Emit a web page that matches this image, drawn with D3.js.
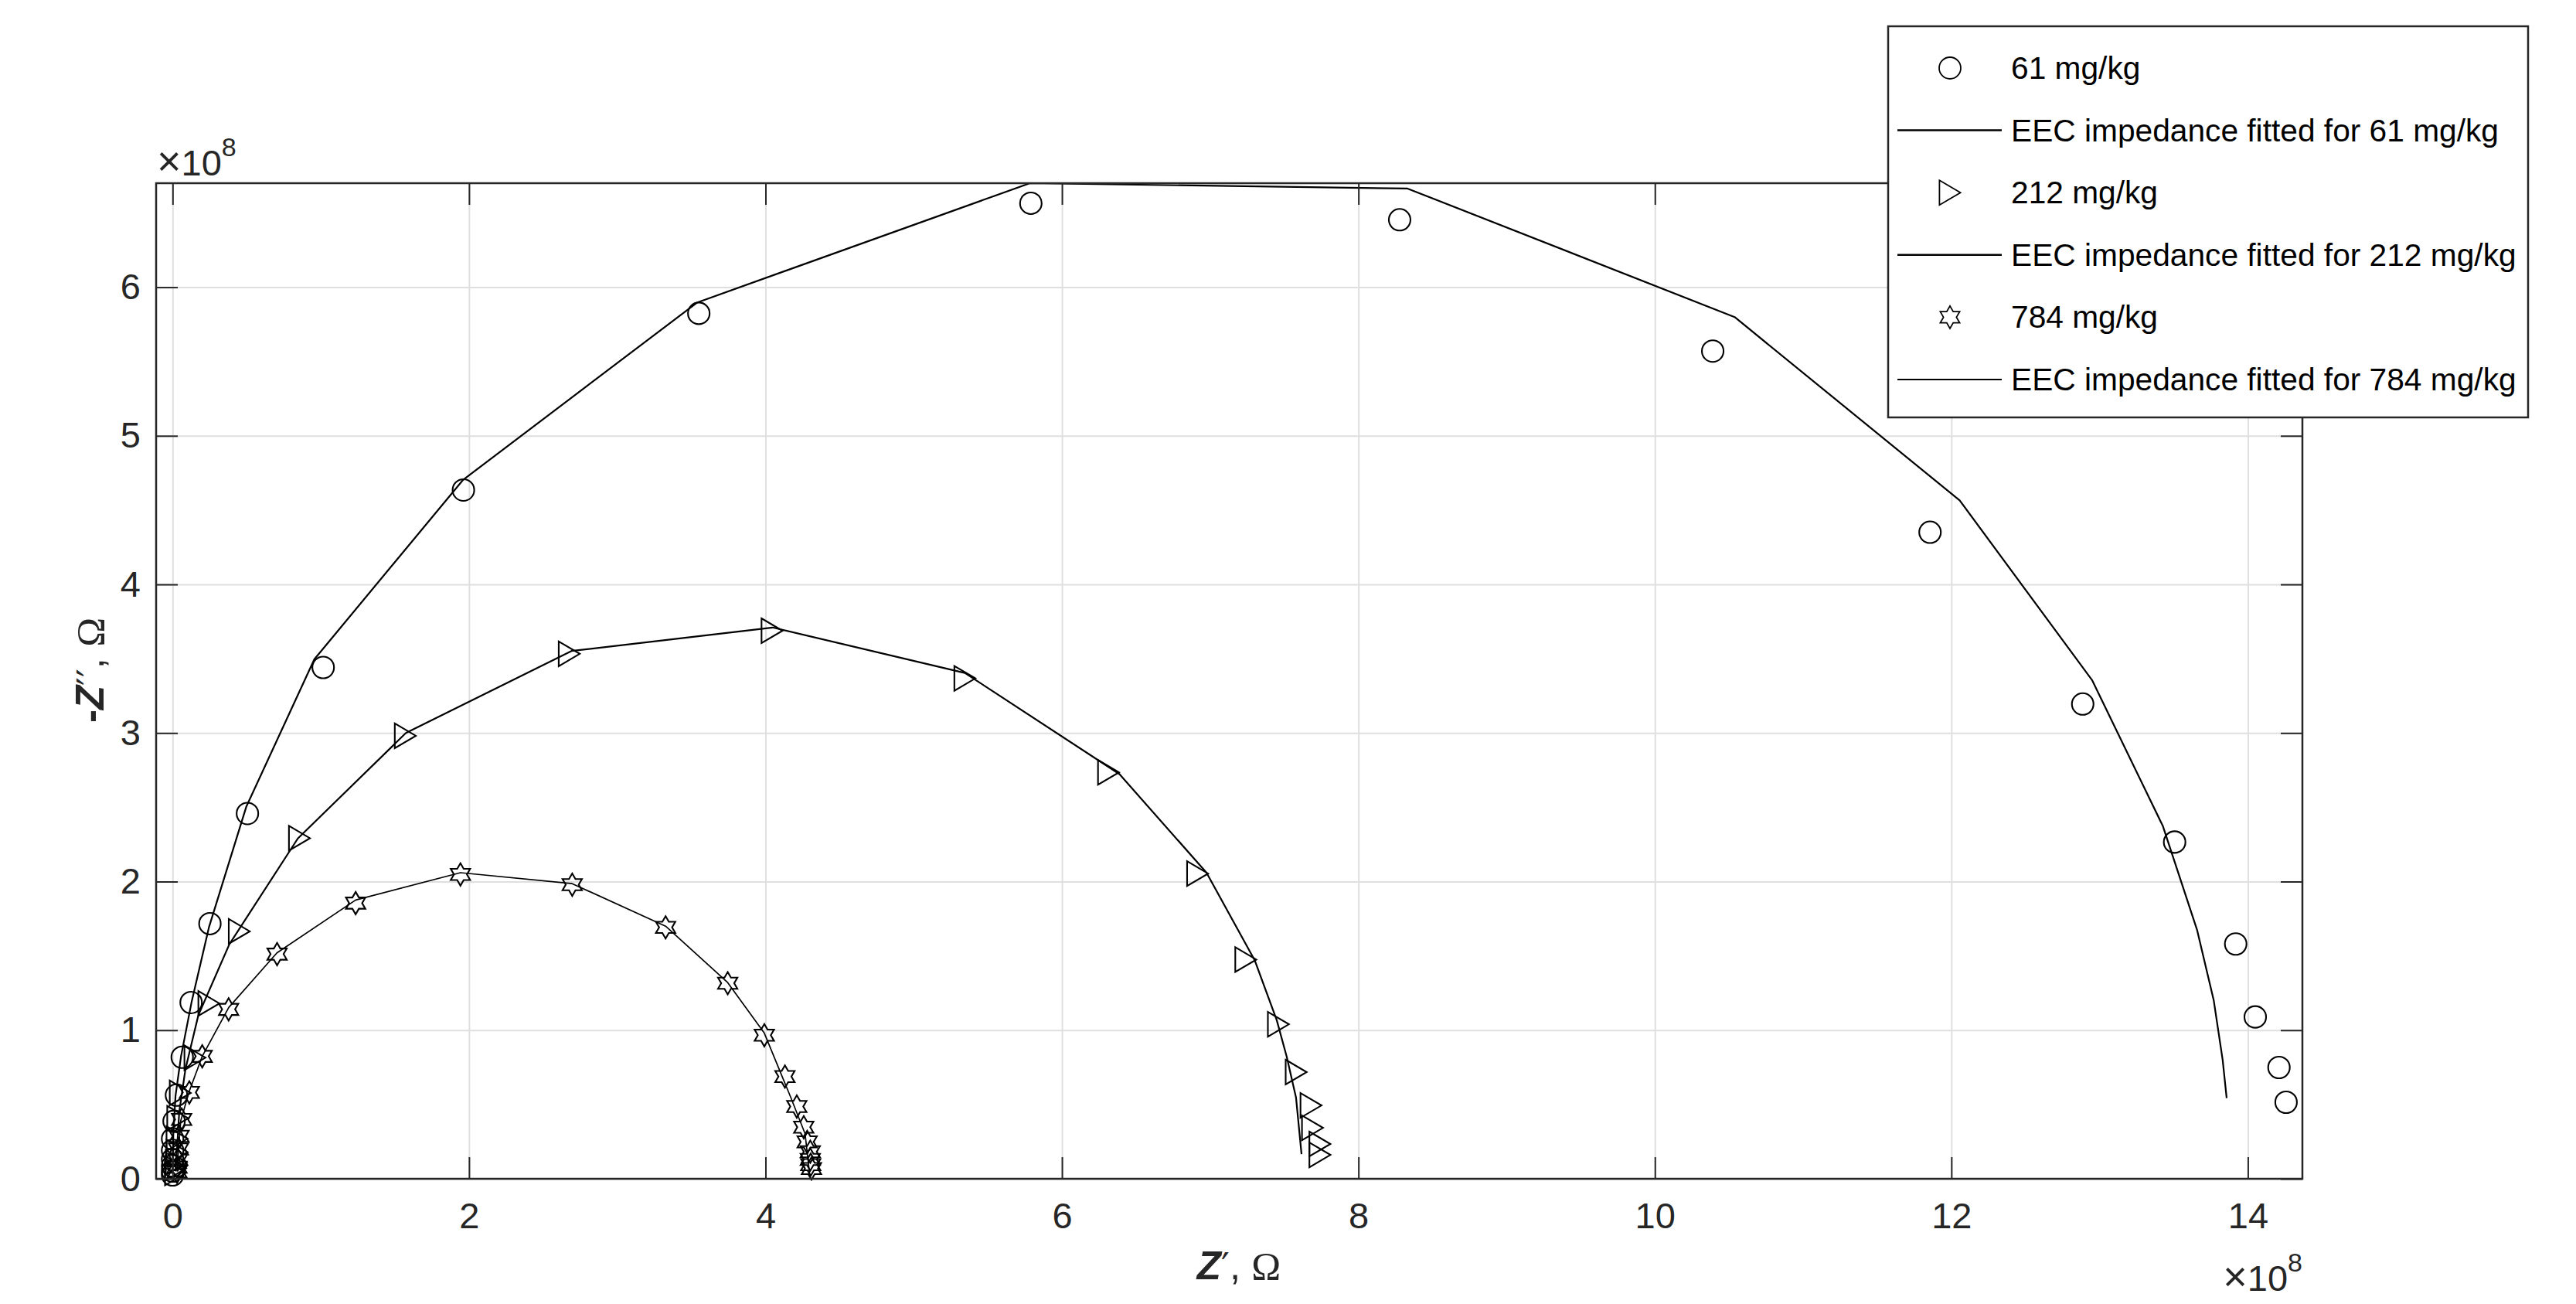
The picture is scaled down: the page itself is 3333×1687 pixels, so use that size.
<!DOCTYPE html>
<html>
<head>
<meta charset="utf-8">
<script src="https://cdn.jsdelivr.net/npm/d3@7"></script>
<style>
    body { margin: 0; background: #fff; }
    svg { display: block; }
</style>
</head>
<body>
<svg id="app"></svg>
<script>
// impedance values in units of 1e8 Ohm (axes show x10^8)
const re61 = [0.00, 0.00, 0.00, 0.00, 0.00, 0.00, 0.01, 0.026, 0.065, 0.125, 0.252, 0.505, 1.016, 1.962, 3.55, 5.79, 8.278, 10.39, 11.856, 12.886, 13.506, 13.918, 14.05, 14.21, 14.258];
const im61 = [0.026, 0.052, 0.087, 0.13, 0.191, 0.269, 0.387, 0.563, 0.818, 1.186, 1.717, 2.458, 3.441, 4.635, 5.824, 6.565, 6.454, 5.570, 4.351, 3.195, 2.266, 1.580, 1.089, 0.749, 0.515];

const re212 = [0.02, 0.02, 0.025, 0.03, 0.03, 0.035, 0.052, 0.151, 0.245, 0.45, 0.856, 1.57, 2.676, 4.044, 5.345, 6.314, 6.915, 7.24, 7.46, 7.58, 7.68, 7.69, 7.74, 7.74];
const im212 = [0.04, 0.07, 0.11, 0.18, 0.27, 0.407, 0.578, 0.815, 1.18, 1.665, 2.292, 2.981, 3.533, 3.688, 3.368, 2.735, 2.054, 1.475, 1.04, 0.718, 0.494, 0.343, 0.234, 0.161];

const re784 = [0.03, 0.03, 0.035, 0.04, 0.044, 0.061, 0.113, 0.2, 0.378, 0.705, 1.235, 1.942, 2.696, 3.326, 3.745, 3.992, 4.131, 4.211, 4.258, 4.281, 4.302, 4.302, 4.305, 4.31];
const im784 = [0.046, 0.078, 0.13, 0.2, 0.286, 0.399, 0.581, 0.824, 1.14, 1.512, 1.855, 2.048, 1.979, 1.692, 1.316, 0.966, 0.688, 0.486, 0.347, 0.248, 0.182, 0.13, 0.095, 0.069];

// EEC fitted curves
const fit61Re = [0.0, 0.005, 0.02, 0.057, 0.128, 0.245, 0.497, 0.956, 1.961, 3.541, 5.784, 8.331, 10.538, 12.056, 12.949, 13.427, 13.658, 13.77, 13.83, 13.857];
const fit61Im = [0.05, 0.3, 0.56, 0.824, 1.188, 1.691, 2.503, 3.496, 4.705, 5.898, 6.70, 6.664, 5.799, 4.565, 3.356, 2.373, 1.673, 1.20, 0.80, 0.543];

const fit212Re = [0.02, 0.03, 0.045, 0.087, 0.174, 0.383, 0.845, 1.574, 2.691, 4.048, 5.345, 6.388, 6.975, 7.30, 7.449, 7.516, 7.579, 7.616];
const fit212Im = [0.05, 0.2, 0.45, 0.739, 1.101, 1.578, 2.29, 3.0, 3.552, 3.71, 3.404, 2.723, 2.06, 1.471, 1.067, 0.822, 0.546, 0.166];

const fit784Re = [0.03, 0.04, 0.055, 0.113, 0.2, 0.379, 0.704, 1.235, 1.942, 2.696, 3.326, 3.745, 3.992, 4.171, 4.267, 4.30];
const fit784Im = [0.05, 0.2, 0.39, 0.59, 0.824, 1.153, 1.52, 1.876, 2.06, 1.986, 1.70, 1.32, 0.98, 0.546, 0.303, 0.01];

const xTicks = [0, 2, 4, 6, 8, 10, 12, 14];
const yTicks = [0, 1, 2, 3, 4, 5, 6];
const legendLabels = ["61 mg/kg", "EEC impedance fitted for 61 mg/kg", "212 mg/kg",
    "EEC impedance fitted for 212 mg/kg", "784 mg/kg", "EEC impedance fitted for 784 mg/kg"];

const W = 3333, H = 1687;
const plot = {left: 202, right: 2979, top: 237, bottom: 1525};
const axisColor = '#262626';
const font = "'Liberation Sans', Arial, sans-serif";
const tickFont = 47;

const x = d3.scaleLinear().domain([-0.111, 14.368]).range([plot.left, plot.right]);
const y = d3.scaleLinear().domain([0, 6.70]).range([plot.bottom, plot.top]);

// MATLAB-like markers
const triRight = {
    draw(ctx, s) {
        ctx.moveTo(-0.85 * s, -s);
        ctx.lineTo(0.85 * s, 0);
        ctx.lineTo(-0.85 * s, s);
        ctx.closePath();
    }
};
const hexagram = {
    draw(ctx, R) {
        for (let k = 0; k < 12; k++) {
            const a = (-90 + k * 30) * Math.PI / 180;
            const r = k % 2 == 0 ? R : R / Math.sqrt(3);
            if (k == 0) ctx.moveTo(r * Math.cos(a), r * Math.sin(a));
            else ctx.lineTo(r * Math.cos(a), r * Math.sin(a));
        }
        ctx.closePath();
    }
};
const ring = {
    draw(ctx, r) {
        ctx.moveTo(r, 0);
        ctx.arc(0, 0, r, 0, 2 * Math.PI);
    }
};

const series = [
    {re: re61, im: im61, fitRe: fit61Re, fitIm: fit61Im, sym: ring, size: 14, lw: 2.2},
    {re: re212, im: im212, fitRe: fit212Re, fitIm: fit212Im, sym: triRight, size: 16, lw: 2.2},
    {re: re784, im: im784, fitRe: fit784Re, fitIm: fit784Im, sym: hexagram, size: 14.5, lw: 1.7},
];

const svg = d3.select("#app")
    .attr("width", W)
    .attr("height", H)
    .style("background", "#fff");

// grid
svg.append("g")
    .attr("transform", `translate(0,${plot.bottom})`)
    .call(d3.axisBottom(x).tickValues(xTicks).tickSize(-(plot.bottom - plot.top)).tickFormat(""))
    .call(g => g.select(".domain").remove())
    .call(g => g.selectAll("line").attr("stroke", "#dfdfdf").attr("stroke-width", 2));

svg.append("g")
    .attr("transform", `translate(${plot.left},0)`)
    .call(d3.axisLeft(y).tickValues(yTicks).tickSize(-(plot.right - plot.left)).tickFormat(""))
    .call(g => g.select(".domain").remove())
    .call(g => g.selectAll("line").attr("stroke", "#dfdfdf").attr("stroke-width", 2));

// data
const line = d3.line();
series.forEach(s => {
    const pts = s.re.map((v, i) => [x(v), y(s.im[i])]);
    svg.append("g")
        .selectAll("path")
        .data(pts)
        .join("path")
        .attr("transform", d => `translate(${d[0]},${d[1]})`)
        .attr("d", d3.symbol().type(s.sym).size(s.size))
        .attr("fill", "none")
        .attr("stroke", "#000")
        .attr("stroke-width", 2.1);

    const fit = s.fitRe.map((v, i) => [x(v), y(s.fitIm[i])]);
    svg.append("path")
        .attr("d", line(fit))
        .attr("fill", "none")
        .attr("stroke", "#000")
        .attr("stroke-width", s.lw)
        .attr("stroke-linejoin", "round");
});

// axes, ticks pointing inward on all four sides
function styleAxis(g) {
    g.select(".domain").remove();
    g.selectAll("line").attr("stroke", axisColor).attr("stroke-width", 2);
    g.selectAll("text").attr("fill", axisColor).attr("font-size", tickFont).attr("font-family", font);
}

svg.append("g")
    .attr("transform", `translate(0,${plot.bottom})`)
    .call(d3.axisBottom(x).tickValues(xTicks).tickSize(-28).tickPadding(31).tickFormat(d3.format("d")))
    .call(styleAxis);

svg.append("g")
    .attr("transform", `translate(0,${plot.top})`)
    .call(d3.axisTop(x).tickValues(xTicks).tickSize(-28).tickFormat(""))
    .call(styleAxis);

svg.append("g")
    .attr("transform", `translate(${plot.left},0)`)
    .call(d3.axisLeft(y).tickValues(yTicks).tickSize(-28).tickPadding(20).tickFormat(d3.format("d")))
    .call(styleAxis);

svg.append("g")
    .attr("transform", `translate(${plot.right},0)`)
    .call(d3.axisRight(y).tickValues(yTicks).tickSize(-28).tickFormat(""))
    .call(styleAxis);

svg.append("rect")
    .attr("x", plot.left)
    .attr("y", plot.top)
    .attr("width", plot.right - plot.left)
    .attr("height", plot.bottom - plot.top)
    .attr("fill", "none")
    .attr("stroke", axisColor)
    .attr("stroke-width", 2.5);

// exponent labels
function exponent(xPos, yPos, anchor) {
    const t = svg.append("text")
        .attr("x", xPos)
        .attr("y", yPos)
        .attr("text-anchor", anchor)
        .attr("font-family", font)
        .attr("font-size", 47)
        .attr("fill", axisColor);
    t.append("tspan").attr("font-size", 54).text("×");
    t.append("tspan").text("10");
    t.append("tspan").attr("dy", -25).attr("font-size", 34).text("8");
}
exponent(203, 227, "start");
exponent(plot.right, 1670, "end");

// axis labels
const xLabel = svg.append("text")
    .attr("x", 1603)
    .attr("y", 1655)
    .attr("text-anchor", "middle")
    .attr("font-size", 51)
    .attr("fill", axisColor);
xLabel.append("tspan").attr("font-family", font).attr("font-weight", "bold").attr("font-style", "italic").text("Z");
xLabel.append("tspan").attr("font-family", "'DejaVu Sans', sans-serif").attr("font-size", 48).text("′");
xLabel.append("tspan").attr("font-family", font).text(", ");
xLabel.append("tspan").attr("font-family", "'Liberation Serif', serif").text("Ω");

const yLabel = svg.append("text")
    .attr("transform", "translate(134,867) rotate(-90)")
    .attr("text-anchor", "middle")
    .attr("font-size", 51)
    .attr("fill", axisColor);
yLabel.append("tspan").attr("font-family", font).attr("font-weight", "bold").text("-");
yLabel.append("tspan").attr("font-family", font).attr("font-weight", "bold").attr("font-style", "italic").text("Z");
yLabel.append("tspan").attr("font-family", "'DejaVu Sans', sans-serif").attr("font-size", 48).text("′′");
yLabel.append("tspan").attr("font-family", font).text(", ");
yLabel.append("tspan").attr("font-family", "'Liberation Serif', serif").text("Ω");

// legend
const legend = svg.append("g");
legend.append("rect")
    .attr("x", 2443)
    .attr("y", 34)
    .attr("width", 828)
    .attr("height", 506)
    .attr("fill", "#fff")
    .attr("stroke", axisColor)
    .attr("stroke-width", 2.5);

legendLabels.forEach((label, i) => {
    const cy = 88 + i * 80.6;
    const s = series[Math.floor(i / 2)];
    if (i % 2 == 0) {
        legend.append("path")
            .attr("transform", `translate(2523,${cy})`)
            .attr("d", d3.symbol().type(s.sym).size(s.size))
            .attr("fill", "none")
            .attr("stroke", "#000")
            .attr("stroke-width", 1.8);
    } else {
        legend.append("line")
            .attr("x1", 2455)
            .attr("x2", 2590)
            .attr("y1", cy)
            .attr("y2", cy)
            .attr("stroke", "#000")
            .attr("stroke-width", s.lw + 0.3);
    }
    legend.append("text")
        .attr("x", 2602)
        .attr("y", cy + 14)
        .attr("font-family", font)
        .attr("font-size", 40.7)
        .attr("fill", "#000")
        .text(label);
});
</script>
</body>
</html>
